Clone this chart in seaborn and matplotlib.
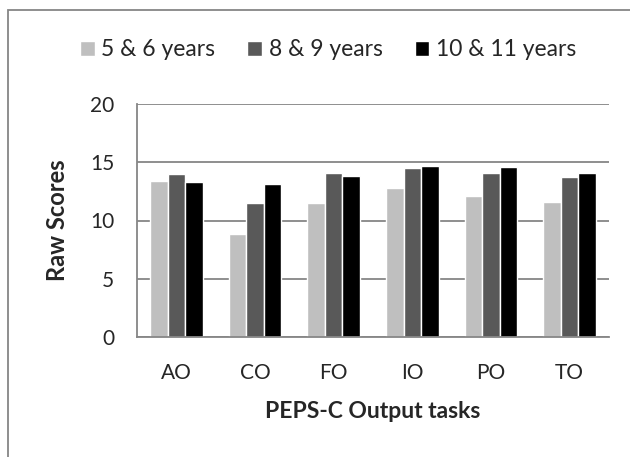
import numpy as np
import pandas as pd
import matplotlib.pyplot as plt
import seaborn as sns
from matplotlib.patches import Rectangle

# ========== DATA ==========
tasks = ["AO", "CO", "FO", "IO", "PO", "TO"]
age_groups = ["5 & 6 years", "8 & 9 years", "10 & 11 years"]
scores_5_6 = [13.4, 8.8, 11.5, 12.8, 12.1, 11.6]
scores_8_9 = [14.0, 11.5, 14.1, 14.5, 14.05, 13.7]
scores_10_11 = [13.3, 13.1, 13.8, 14.7, 14.6, 14.1]
colors = ["#BFBFBF", "#595959", "#000000"]

df = pd.DataFrame({
    "Task": tasks * 3,
    "Group": [g for g in age_groups for _ in tasks],
    "Score": scores_5_6 + scores_8_9 + scores_10_11,
})

sns.set_style("white")
plt.rcParams['font.family'] = ['Lato', 'DejaVu Sans']

fig = plt.figure(figsize=(6.3, 4.57), dpi=100)
ax = fig.add_axes([137 / 630, 1 - 337 / 457, 472 / 630, 233 / 457])

sns.barplot(data=df, x="Task", y="Score", hue="Group", palette=colors,
            width=0.67, saturation=1, ax=ax, legend=True)

ax.set_ylim(0, 20)
ax.set_yticks([0, 5, 10, 15, 20])
ax.set_xlim(-0.5, 5.5)
ax.yaxis.grid(True, color="#868686", linewidth=1.3)
ax.set_axisbelow(True)

for s in ["top", "right"]:
    ax.spines[s].set_visible(False)
for s in ["left", "bottom"]:
    ax.spines[s].set_color("#868686")
    ax.spines[s].set_linewidth(1.3)

# tick marks between the groups
ax.set_xticks(np.arange(6))
ax.set_xticklabels(tasks)
ax.set_xticks(np.arange(-0.5, 6.0, 1), minor=True)
ax.tick_params(axis="x", which="major", length=0, labelsize=15, pad=19)
ax.tick_params(axis="x", which="minor", length=6, width=1.3, color="#868686",
               direction="out")
ax.tick_params(axis="y", length=6.5, width=1.3, color="#868686", labelsize=15, pad=10)

ax.set_xlabel("PEPS-C Output tasks", fontsize=16.5, fontweight="bold", labelpad=13)
ax.set_ylabel("Raw Scores", fontsize=17, fontweight="bold", labelpad=15)

leg = ax.legend(loc="center", bbox_to_anchor=(328 / 630, 1 - 50 / 457),
                bbox_transform=fig.transFigure, ncol=3, frameon=False,
                fontsize=16.5, handlelength=0.65, handleheight=0.65,
                handletextpad=0.28, columnspacing=1.4)

# outer chart border (only left and top visible)
fig.patches.append(Rectangle((8 / 630, -0.1), 1, 1.1 - 10 / 457, transform=fig.transFigure,
                             fill=False, edgecolor="#868686", linewidth=1.3))

fig.savefig("out.png", dpi=100)
